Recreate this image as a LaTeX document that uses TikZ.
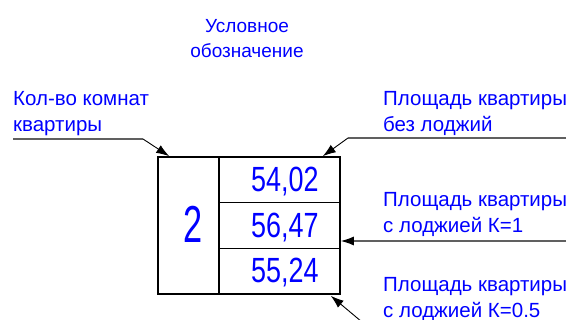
\documentclass[tikz,border=0pt]{standalone}
\usepackage{fontspec}
\setmainfont{Liberation Sans}
\usetikzlibrary{arrows.meta,calc}

\definecolor{txtblue}{RGB}{0,0,255}
\definecolor{lgray}{RGB}{96,96,96}

\tikzset{
  cell/.style={draw=black, line width=1.6pt, inner sep=0pt},
  num/.style={text=txtblue, inner sep=0pt, transform shape},
  lbl/.style={text=txtblue, inner sep=0pt, align=left, anchor=base west,
    font=\fontsize{20.5}{26}\selectfont},
  uline/.style={draw=lgray, line width=1.2pt},
  tip/.style={-{Latex[length=13pt,width=9pt,black]}, line width=0.9pt}
}

\begin{document}
\begin{tikzpicture}[x=1pt,y=-1pt]
  \useasboundingbox (0,0) rectangle (571,320);
  % title
  \node[text=txtblue, inner sep=0pt, align=center, anchor=base,
    font=\fontsize{19}{25}\selectfont] (title) at (247,58) {Условное\\обозначение};
  % the symbol itself
  \node[cell, minimum width=61pt, minimum height=137pt] (rooms) at (188.5,225.5) {};
  \node[num, font=\fontsize{52}{52}\selectfont, xscale=0.66] (nrooms) at (193,224) {2};
  \foreach \i/\yc/\val in {1/179.83/{54,02}, 2/225.5/{56,47}, 3/271.17/{55,24}}{
    \node[cell, minimum width=121pt, minimum height=45.67pt] (area\i) at (279.5,\yc) {};
    \node[num, font=\fontsize{35}{35}\selectfont, xscale=0.77, anchor=base east]
      (val\i) at ($(area\i.south east)+(-22,-12)$) {\val};
  }
  % labels (base = last line)
  \node[lbl] (lrooms) at (13,132) {Кол-во комнат\\квартиры};
  \node[lbl] (lnolog) at (383,132) {Площадь квартиры\\без лоджий};
  \node[lbl] (llog1)  at (383,233) {Площадь квартиры\\с лоджией К=1};
  \node[lbl] (llog05) at (383,318) {Площадь квартиры\\с лоджией К=0.5};
  % leaders
  \coordinate (rooms-ul-l) at (13,139);  \coordinate (rooms-ul-r) at (143,139);
  \coordinate (nolog-ul-r) at (566,138); \coordinate (nolog-ul-l) at (348,138);
  \coordinate (log1-ul-r) at (566,241);
  \coordinate (log05-end) at (362,322);
  \draw[uline] (rooms-ul-l) -- (rooms-ul-r);
  \draw[tip] (rooms-ul-r) -- ($(rooms.north west)+(12,0)$);
  \draw[uline] (nolog-ul-r) -- (nolog-ul-l);
  \draw[tip] (nolog-ul-l) -- ($(area1.north east)+(-18,0)$);
  \draw[uline, tip, draw=lgray, line width=1.2pt] (log1-ul-r) -- (log1-ul-r -| area2.east);
  \draw[tip] (log05-end) -- ($(area3.south east)+(-10,1)$);
\end{tikzpicture}
\end{document}
